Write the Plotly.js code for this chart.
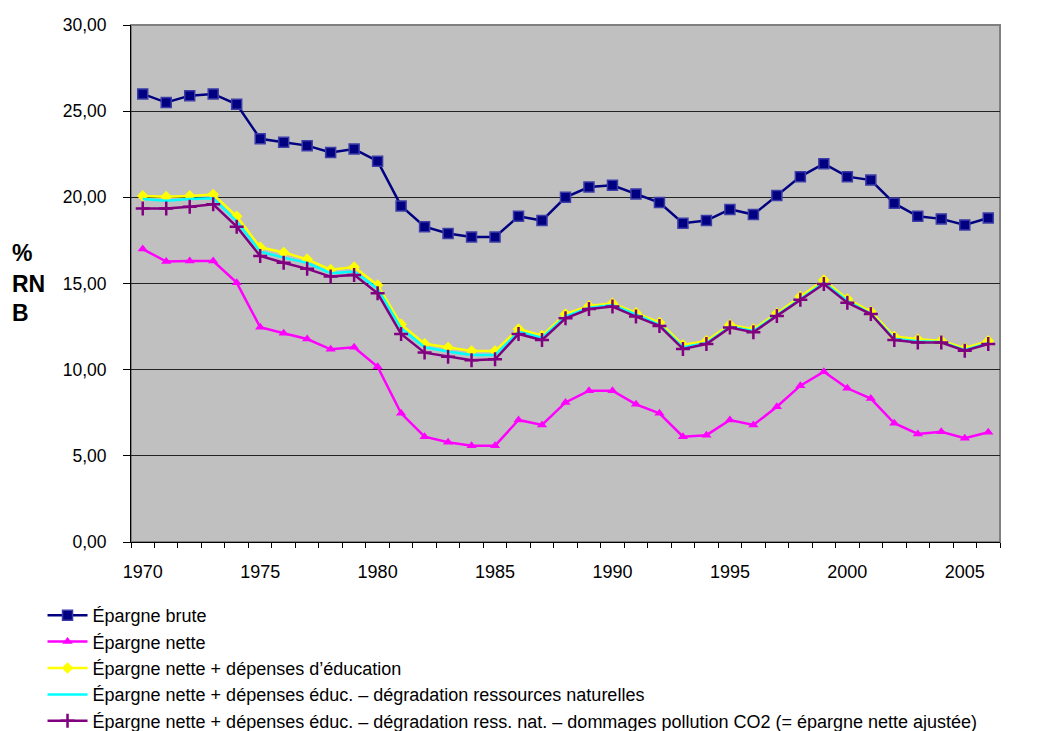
<!DOCTYPE html>
<html>
<head>
<meta charset="utf-8">
<script src="https://cdn.plot.ly/plotly-3.0.1.min.js"></script>
<style>html,body{margin:0;padding:0;background:#fff;}#chart{width:1063px;height:731px;}</style>
</head>
<body>
<div id="chart"></div>
<script>
const years = [1970,1971,1972,1973,1974,1975,1976,1977,1978,1979,1980,1981,1982,1983,1984,1985,1986,1987,1988,1989,1990,1991,1992,1993,1994,1995,1996,1997,1998,1999,2000,2001,2002,2003,2004,2005,2006];
const yearLabels = [1970,1975,1980,1985,1990,1995,2000,2005];

const epargneBrute = [26.0,25.5,25.9,26.0,25.4,23.4,23.2,23.0,22.6,22.8,22.1,19.5,18.3,17.9,17.7,17.7,18.9,18.65,20.0,20.6,20.7,20.2,19.7,18.5,18.65,19.3,19.0,20.1,21.2,21.95,21.2,21.0,19.65,18.9,18.75,18.4,18.8];
const epargneNette = [17.0,16.27,16.3,16.3,15.05,12.46,12.11,11.78,11.18,11.3,10.17,7.47,6.11,5.79,5.59,5.59,7.08,6.79,8.1,8.78,8.78,7.99,7.47,6.11,6.2,7.08,6.79,7.85,9.07,9.88,8.92,8.32,6.89,6.27,6.4,6.02,6.37];
const netteEducation = [20.08,20.04,20.08,20.16,18.9,17.1,16.8,16.4,15.8,15.95,14.9,12.63,11.5,11.28,11.08,11.08,12.36,11.97,13.23,13.7,13.85,13.3,12.73,11.43,11.67,12.6,12.35,13.27,14.24,15.2,14.1,13.37,11.92,11.76,11.68,11.24,11.67];
const netteRessources = [19.9,19.8,19.9,19.95,18.6,16.85,16.5,16.2,15.6,15.7,14.7,12.4,11.3,11.05,10.85,10.85,12.2,11.85,13.1,13.6,13.75,13.2,12.6,11.3,11.55,12.5,12.25,13.15,14.1,15.05,14.0,13.25,11.8,11.65,11.6,11.15,11.55];
const netteAjustee = [19.35,19.35,19.46,19.6,18.3,16.6,16.2,15.85,15.4,15.5,14.43,12.07,10.99,10.75,10.55,10.6,12.07,11.72,12.98,13.52,13.66,13.08,12.54,11.2,11.49,12.44,12.17,13.12,14.05,14.97,13.89,13.23,11.72,11.57,11.57,11.1,11.49];

const names = [
  "Épargne brute",
  "Épargne nette",
  "Épargne nette + dépenses d’éducation",
  "Épargne nette + dépenses éduc. – dégradation ressources naturelles",
  "Épargne nette + dépenses éduc. – dégradation ress. nat. – dommages pollution CO2 (= épargne nette ajustée)"
];

const FONT = 'Arial, "Liberation Sans", sans-serif';

const traces = [
  {x: years, y: epargneBrute, name: names[0], legendgroup: 'g1', mode: 'lines+markers',
   line: {color: '#000080', width: 2.5},
   marker: {symbol: 'square', size: 10, color: '#000080', line: {color: '#3c3ca8', width: 1.5}}},
  {x: years, y: epargneNette, name: names[1], legendgroup: 'g2', mode: 'lines+markers',
   line: {color: '#FF00FF', width: 2.5},
   marker: {symbol: 'triangle-up', size: 9, color: '#FF00FF'}},
  {x: years, y: netteEducation, name: names[2], legendgroup: 'g3', mode: 'lines+markers',
   line: {color: '#FFFF00', width: 2.5},
   marker: {symbol: 'diamond', size: 9, color: '#FFFF00'}},
  {x: years, y: netteRessources, name: names[3], legendgroup: 'g4', mode: 'lines',
   line: {color: '#00FFFF', width: 2.5}},
  {x: years, y: netteAjustee, name: names[4], legendgroup: 'g5', mode: 'lines+markers',
   line: {color: '#800080', width: 2.5},
   marker: {symbol: 'cross-thin', size: 10, color: '#800080', line: {color: '#800080', width: 2.5}}}
];

const layout = {
  width: 1063, height: 731,
  margin: {l: 131, r: 63, t: 25, b: 189, autoexpand: false},
  paper_bgcolor: '#ffffff',
  plot_bgcolor: '#C0C0C0',
  separators: ', ',
  font: {family: FONT, size: 14, color: '#000'},
  showlegend: true,
  legend: {
    xref: 'container', yref: 'container',
    x: 0.04, y: 1 - 597/731, xanchor: 'left', yanchor: 'top',
    orientation: 'v', traceorder: 'normal',
    tracegroupgap: 0,
    font: {family: FONT, size: 18, color: '#000'},
    bgcolor: 'rgba(0,0,0,0)', borderwidth: 0,
    itemwidth: 40
  },
  xaxis: {
    range: [1969.5, 2006.5],
    tickmode: 'array', tickvals: yearLabels, ticktext: yearLabels.map(String),
    ticks: 'outside', ticklen: 5, tickcolor: 'rgba(0,0,0,0)',
    ticklabelstandoff: 8,
    showgrid: false, zeroline: false,
    showline: true, linecolor: '#000', linewidth: 1,
    tickfont: {family: FONT, size: 18, color: '#000'},
    minor: {tickmode: 'linear', tick0: 1969.5, dtick: 1, ticks: 'outside', ticklen: 5, tickcolor: '#000', tickwidth: 1, showgrid: false}
  },
  yaxis: {
    range: [0, 30], tickmode: 'linear', tick0: 0, dtick: 5,
    tickformat: '.2f',
    ticks: 'outside', ticklen: 7, tickcolor: '#000',
    ticklabelstandoff: 13,
    showgrid: true, gridcolor: '#222', gridwidth: 1,
    zeroline: false,
    showline: true, linecolor: '#000', linewidth: 1,
    tickfont: {family: FONT, size: 17.5, color: '#000'}
  },
  shapes: [
    {type: 'rect', xref: 'paper', yref: 'paper', x0: 0, x1: 1, y0: 0, y1: 1,
     line: {color: '#808080', width: 2}, layer: 'below'}
  ],
  annotations: [
    {text: '<b>%</b>', xref: 'paper', yref: 'paper', x: -0.139, y: 0.559, xanchor: 'left', yanchor: 'middle', showarrow: false, font: {family: FONT, size: 23, color: '#000'}},
    {text: '<b>RN</b>', xref: 'paper', yref: 'paper', x: -0.139, y: 0.499, xanchor: 'left', yanchor: 'middle', showarrow: false, font: {family: FONT, size: 23, color: '#000'}},
    {text: '<b>B</b>', xref: 'paper', yref: 'paper', x: -0.139, y: 0.443, xanchor: 'left', yanchor: 'middle', showarrow: false, font: {family: FONT, size: 23, color: '#000'}}
  ]
};

Plotly.newPlot('chart', traces, layout, {displayModeBar: false, staticPlot: true});
</script>
</body>
</html>
